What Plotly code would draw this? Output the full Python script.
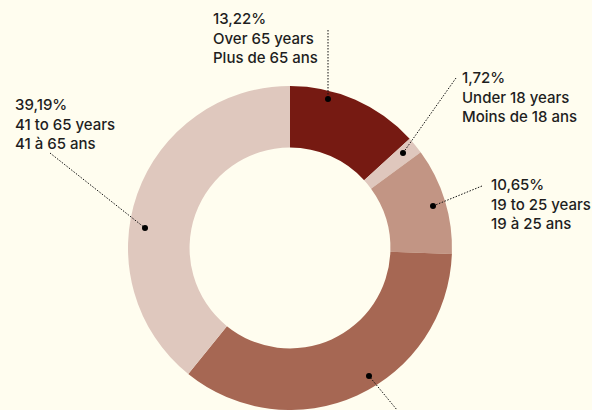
import plotly.graph_objects as go

# Data
categories = ["Over 65 years", "Under 18 years", "19 to 25 years", "26 to 40 years", "41 to 65 years"]
categories_fr = ["Plus de 65 ans", "Moins de 18 ans", "19 à 25 ans", "26 à 40 ans", "41 à 65 ans"]
shares = [13.22, 1.72, 10.65, 35.22, 39.19]
pct_labels = ["13,22%", "1,72%", "10,65%", "35,22%", "39,19%"]

colors = ["#761A12", "#DFC7BD", "#C29584", "#A66753", "#DFC8BE"]
BG = "#FFFDEF"
W, H = 592, 410

def px(x):
    return x / W

def py(y):
    return 1 - y / H

fig = go.Figure()
fig.add_trace(go.Pie(
    labels=categories, values=shares, sort=False, direction="clockwise", rotation=0,
    hole=0.62, marker=dict(colors=colors, line=dict(width=0)),
    textinfo="none", hoverinfo="skip", showlegend=False,
    domain=dict(x=[px(290 - 163), px(290 + 163)], y=[0, py(86)]),
))

# label layout (pixel positions): text left x, top-line center y, leader start, dot
label_layout = [
    dict(i=0, tx=212, ty=17, line=(328, 30), dot=(328, 99)),
    dict(i=1, tx=461, ty=76, line=(456, 78), dot=(403, 153)),
    dict(i=2, tx=490, ty=183, line=(482, 186), dot=(433, 206)),
    dict(i=3, tx=None, ty=None, line=(402, 416), dot=(369, 376)),
    dict(i=4, tx=14, ty=103, line=(50, 153), dot=(145, 228)),
]

shapes = []
annotations = []
for L in label_layout:
    lx, ly = L["line"]
    dx, dy = L["dot"]
    shapes.append(dict(type="line", xref="paper", yref="paper",
                       x0=px(lx), y0=py(ly), x1=px(dx), y1=py(dy),
                       line=dict(color="#111111", width=1, dash="1.5px,1.5px")))
    r = 3
    shapes.append(dict(type="circle", xref="paper", yref="paper",
                       x0=px(dx - r), x1=px(dx + r), y0=py(dy - r), y1=py(dy + r),
                       fillcolor="#000000", line=dict(width=0)))
    if L["tx"] is not None:
        i = L["i"]
        annotations.append(dict(
            xref="paper", yref="paper", x=px(L["tx"] - 1), y=py(L["ty"] - 10),
            xanchor="left", yanchor="top", align="left", showarrow=False,
            text=f"{pct_labels[i]}<br>{categories[i]}<br>{categories_fr[i]}",
            font=dict(family="Inter, sans-serif", size=15, color="#1E1E1E", weight=500),
        ))

fig.update_layout(
    width=W, height=H, margin=dict(l=0, r=0, t=0, b=0),
    paper_bgcolor=BG, plot_bgcolor=BG,
    shapes=shapes, annotations=annotations,
)

fig.write_html(
    "out.html",
    config={"displayModeBar": False},
    post_script="document.body.style.margin='0';document.body.style.background='" + BG + "';document.body.style.overflow='hidden';",
)
